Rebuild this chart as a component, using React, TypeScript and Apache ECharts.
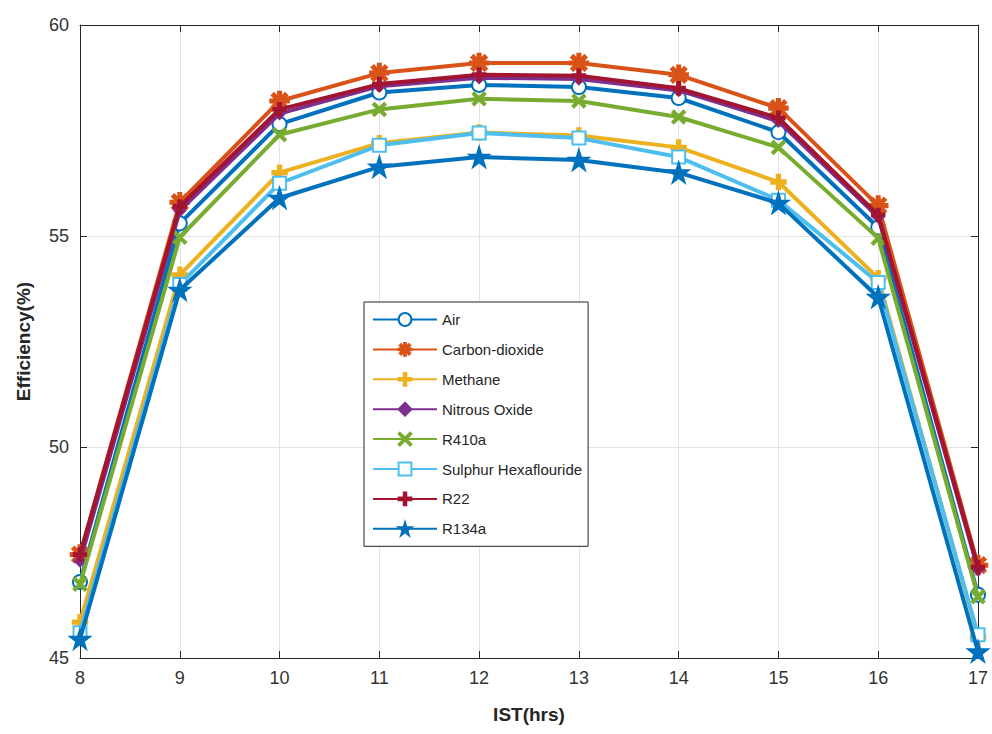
import React, { useEffect, useRef } from "react";
import * as echarts from "echarts";

const hours = [8, 9, 10, 11, 12, 13, 14, 15, 16, 17];
const yTicks = [45, 50, 55, 60];

const air = [46.8, 55.3, 57.65, 58.4, 58.58, 58.53, 58.27, 57.46, 55.2, 46.5];
const co2 = [47.45, 55.8, 58.2, 58.86, 59.1, 59.1, 58.82, 58.03, 55.72, 47.2];
const methane = [45.85, 54.08, 56.5, 57.2, 57.45, 57.38, 57.1, 56.28, 54.0, 45.5];
const nitrous = [47.3, 55.6, 57.9, 58.55, 58.75, 58.72, 58.45, 57.72, 55.45, 47.1];
const r410a = [46.75, 54.97, 57.4, 58.0, 58.25, 58.2, 57.82, 57.1, 54.95, 46.45];
const sulphur = [45.6, 53.85, 56.25, 57.15, 57.44, 57.32, 56.87, 55.85, 53.9, 45.55];
const r22 = [47.45, 55.7, 58.0, 58.6, 58.82, 58.8, 58.5, 57.8, 55.5, 47.15];
const r134a = [45.45, 53.72, 55.9, 56.64, 56.87, 56.8, 56.5, 55.78, 53.55, 45.15];

const seriesNames = [
  "Air",
  "Carbon-dioxide",
  "Methane",
  "Nitrous Oxide",
  "R410a",
  "Sulphur Hexaflouride",
  "R22",
  "R134a",
];
const seriesValues = [air, co2, methane, nitrous, r410a, sulphur, r22, r134a];
const colors = ["#0072BD", "#D95319", "#EDB120", "#7E2F8E", "#77AC30", "#4DBEEE", "#A2142F", "#0072BD"];

const PLUS = "path://M4,0H6V4H10V6H6V10H4V6H0V4H4Z";
const XMARK = "path://M1,0L5,4L9,0L10,1L6,5L10,9L9,10L5,6L1,10L0,9L4,5L0,1Z";
const ASTER = "path://M4.3,0H5.7V3.3L8.1,0.9L9.1,1.9L6.7,4.3H10V5.7H6.7L9.1,8.1L8.1,9.1L5.7,6.7V10H4.3V6.7L1.9,9.1L0.9,8.1L3.3,5.7H0V4.3H3.3L0.9,1.9L1.9,0.9L4.3,3.3Z";
const STAR = "path://M50,0L61,35H98L68,57L79,91L50,70L21,91L32,57L2,35H39Z";

const symbols = ["emptyCircle", ASTER, PLUS, "diamond", XMARK, "emptyRect", PLUS, STAR];
const symbolSizes = [14, 18, 14, 10, 12, 13, 12, 18];

export default function App() {
  const ref = useRef<HTMLDivElement>(null);
  useEffect(() => {
    if (!ref.current) return;
    const chart = echarts.init(ref.current, undefined, { renderer: "svg" });
    const font = "'Liberation Sans', Arial, sans-serif";
    const series = seriesNames.map((name, i) => ({
      name,
      type: "line",
      data: hours.map((h, j) => [h, seriesValues[i][j]]),
      symbol: symbols[i],
      symbolSize: symbolSizes[i],
      showAllSymbol: true,
      lineStyle: { width: 4, color: colors[i] },
      itemStyle: { color: colors[i], borderColor: colors[i], borderWidth: 2.5 },
      xAxisIndex: 0,
      yAxisIndex: 0,
      z: 2 + i,
    }));
    chart.setOption({
      animation: false,
      backgroundColor: "#ffffff",
      textStyle: { fontFamily: font },
      grid: { left: 80, right: 14, top: 25, bottom: 76 },
      xAxis: [
        {
          type: "value",
          min: 8,
          max: 17,
          interval: 1,
          name: "IST(hrs)",
          nameLocation: "middle",
          nameGap: 47,
          nameTextStyle: { fontSize: 19, fontWeight: "bold", color: "#262626", fontFamily: font },
          axisLine: { show: true, lineStyle: { color: "#262626", width: 1 } },
          axisTick: { show: true, inside: true, length: 7, lineStyle: { color: "#262626" } },
          axisLabel: { fontSize: 18, color: "#333333", margin: 11, fontFamily: font },
          splitLine: { show: true, lineStyle: { color: "#e3e3e3", width: 1 } },
        },
        {
          type: "value",
          position: "top",
          min: 8,
          max: 17,
          interval: 1,
          axisLine: { show: true, onZero: false, lineStyle: { color: "#262626", width: 1 } },
          axisTick: { show: true, inside: true, length: 7, lineStyle: { color: "#262626" } },
          axisLabel: { show: false },
          splitLine: { show: false },
        },
      ],
      yAxis: [
        {
          type: "value",
          min: yTicks[0],
          max: yTicks[yTicks.length - 1],
          interval: 5,
          name: "Efficiency(%)",
          nameLocation: "middle",
          nameGap: 47,
          nameTextStyle: { fontSize: 19, fontWeight: "bold", color: "#262626", fontFamily: font },
          axisLine: { show: true, lineStyle: { color: "#262626", width: 1 } },
          axisTick: { show: true, inside: true, length: 7, lineStyle: { color: "#262626" } },
          axisLabel: { fontSize: 18, color: "#333333", margin: 11, fontFamily: font },
          splitLine: { show: true, lineStyle: { color: "#e3e3e3", width: 1 } },
        },
        {
          type: "value",
          position: "right",
          min: yTicks[0],
          max: yTicks[yTicks.length - 1],
          interval: 5,
          axisLine: { show: true, onZero: false, lineStyle: { color: "#262626", width: 1 } },
          axisTick: { show: true, inside: true, length: 7, lineStyle: { color: "#262626" } },
          axisLabel: { show: false },
          splitLine: { show: false },
        },
      ],
      legend: {
        orient: "vertical",
        left: 364,
        top: 302,
        data: seriesNames,
        backgroundColor: "#ffffff",
        borderColor: "#262626",
        borderWidth: 1,
        borderRadius: 0,
        padding: [10, 6, 10, 8],
        itemWidth: 64,
        itemHeight: 16,
        itemGap: 14.9,
        textStyle: { fontSize: 15, color: "#262626", fontFamily: font },
        z: 20,
      },
      series,
    });
    return () => chart.dispose();
  }, []);
  return (
    <div
      ref={ref}
      style={{ position: "absolute", left: 0, top: 0, width: 992, height: 734 }}
    />
  );
}
